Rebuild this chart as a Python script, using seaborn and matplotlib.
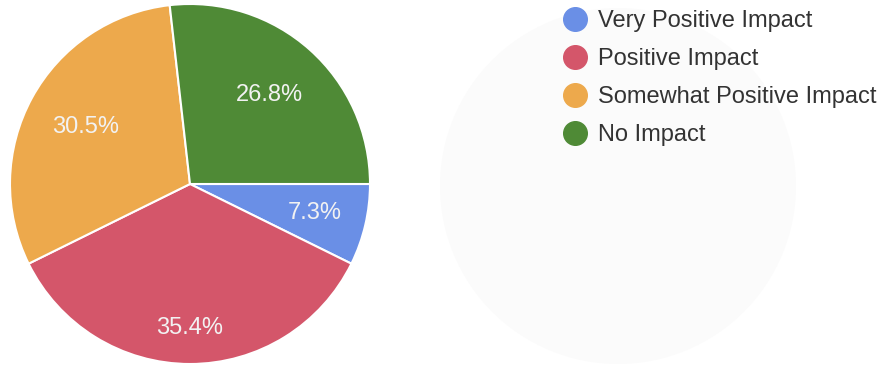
import matplotlib
matplotlib.use("Agg")
import matplotlib.pyplot as plt
from matplotlib.lines import Line2D
from matplotlib.patches import Ellipse
import numpy as np
import seaborn as sns

categories = ["Very Positive Impact", "Positive Impact",
              "Somewhat Positive Impact", "No Impact"]
shares = [7.3, 35.4, 30.5, 26.8]
colors = ["#6a8fe6", "#d4566a", "#eda94c", "#4f8a36"]
# radial placement of each percentage label (fraction of radius)
label_radius = [0.71, 0.80, 0.66, 0.66]

sns.set_theme(style="white")
plt.rcParams["font.family"] = ["Liberation Sans", "DejaVu Sans"]

W, H = 886, 366
fig = plt.figure(figsize=(W / 100, H / 100), dpi=100)
fig.patch.set_facecolor("white")

# faint round shadow behind the legend area
bg = fig.add_axes([0, 0, 1, 1])
bg.set_xlim(0, W)
bg.set_ylim(H, 0)
bg.axis("off")
bg.add_patch(Ellipse((618, 186), 356, 356, facecolor="#fbfbfb",
                     edgecolor="none", zorder=0))

ax = fig.add_axes([10 / W, 2 / H, 360 / W, 360 / H])
wedges, texts, autotexts = ax.pie(
    shares, colors=colors, startangle=0, counterclock=False,
    radius=1.0, autopct="%.1f%%", pctdistance=0.68,
    wedgeprops=dict(edgecolor="white", linewidth=1.5),
    textprops=dict(color="#f2f2f2", fontsize=17),
)
for w, t, r in zip(wedges, autotexts, label_radius):
    ang = np.deg2rad((w.theta1 + w.theta2) / 2)
    t.set_position((r * np.cos(ang), r * np.sin(ang)))
ax.set_xlim(-1, 1)
ax.set_ylim(-1, 1)
ax.set_aspect("equal")
ax.axis("off")

handles = [Line2D([], [], marker="o", linestyle="none", markersize=17,
                  markerfacecolor=c, markeredgecolor=c) for c in colors]
leg = fig.legend(handles, categories, loc="upper left",
                 bbox_to_anchor=(561 / W, 1 - 7.5 / H), frameon=False,
                 fontsize=17, labelspacing=0.68, handlelength=1.0,
                 handletextpad=0.47, borderaxespad=0, borderpad=0.1)
for t in leg.get_texts():
    t.set_color("#333333")

fig.savefig("out.png", dpi=100, facecolor="white")
